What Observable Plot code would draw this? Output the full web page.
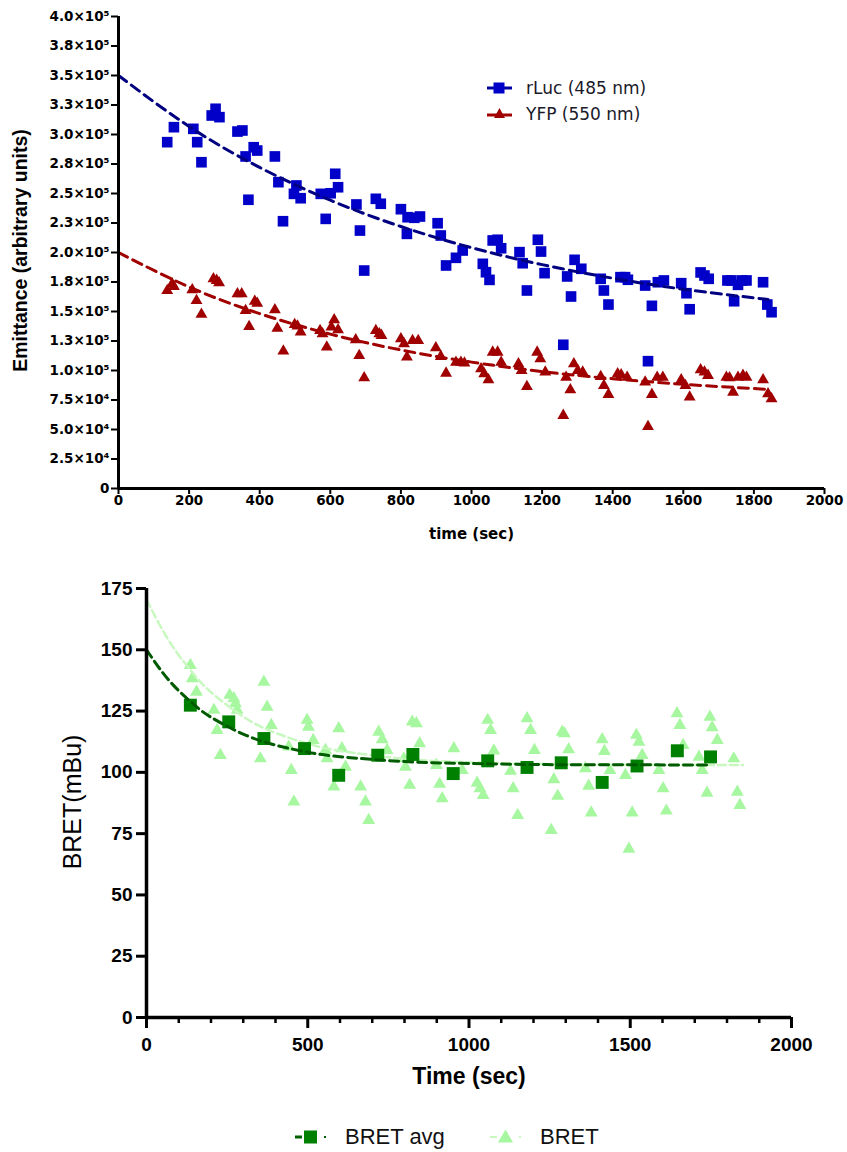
<!DOCTYPE html>
<html>
<head>
<meta charset="utf-8">
<script src="https://cdn.jsdelivr.net/npm/d3@7"></script>
<script src="https://cdn.jsdelivr.net/npm/@observablehq/plot@0.6"></script>
<style>
  html, body { margin: 0; padding: 0; background: white; }
  #wrap { position: relative; width: 847px; height: 1152px; background: white; overflow: hidden; }
  #wrap svg { display: block; }
  .leg { position: absolute; display: flex; align-items: center; white-space: nowrap; }
  .leg svg { display: block; }
</style>
</head>
<body>
<div id="wrap">
  <div id="top"></div>
  <div id="bottom"></div>
  <div class="leg" style="left:486px; top:78px; font-family:'DejaVu Sans'; font-size:17px; color:#1a1a2a;">
    <svg width="28" height="20"><line x1="1" y1="10" x2="26" y2="10" stroke="#0000a0" stroke-width="3"/><rect x="7.5" y="4.5" width="11" height="11" fill="#0000c8"/></svg>
    <span style="margin-left:12px">rLuc (485 nm)</span>
  </div>
  <div class="leg" style="left:486px; top:104px; font-family:'DejaVu Sans'; font-size:17px; color:#1a1a2a;">
    <svg width="28" height="20"><line x1="1" y1="11" x2="26" y2="11" stroke="#a00000" stroke-width="3"/><path d="M13.5,4 L19,14 L8,14 Z" fill="#a00000"/></svg>
    <span style="margin-left:12px">YFP (550 nm)</span>
  </div>
  <div class="leg" style="left:294px; top:1122px; font-family:'Liberation Sans', Arial; font-size:22px; color:#111;">
    <svg width="34" height="30"><line x1="1" y1="15" x2="8" y2="15" stroke="#006000" stroke-width="3"/><rect x="10" y="8.5" width="13" height="13" fill="#008000"/><line x1="30" y1="15" x2="32" y2="15" stroke="#006000" stroke-width="2"/></svg>
    <span style="margin-left:17px">BRET avg</span>
  </div>
  <div class="leg" style="left:489px; top:1122px; font-family:'Liberation Sans', Arial; font-size:22px; color:#111;">
    <svg width="34" height="30"><line x1="1" y1="15" x2="8" y2="15" stroke="#c8f8c0" stroke-width="2"/><path d="M16.5,7.5 L24,20.5 L9,20.5 Z" fill="#a6f7a0"/><line x1="30" y1="15" x2="32" y2="15" stroke="#c8f8c0" stroke-width="2"/></svg>
    <span style="margin-left:17px">BRET</span>
  </div>
</div>
<script>
// ---------- Top chart data ----------
const rlucTime = [138,157,212,223,235,264,275,286,337,351,360,383,393,368,443,453,466,504,497,516,573,587,601,614,622,674,684,696,729,743,800,819,817,838,854,904,913,928,956,975,1032,1041,1051,1060,1074,1084,1136,1145,1157,1188,1197,1207,1260,1271,1282,1292,1311,1366,1375,1388,1422,1435,1443,1492,1500,1511,1528,1545,1594,1609,1618,1649,1660,1672,1725,1736,1744,1755,1766,1779,1826,1838,1850];
const rlucValue = [293500,306200,304800,293500,276500,316100,321800,314700,302500,303400,281400,289200,286400,244700,281400,259600,226500,256800,249700,246000,249700,228500,250200,266700,255300,240700,218600,184700,245500,241300,236700,229900,215800,229400,230500,224800,214400,189000,195500,201700,190400,183300,176800,210200,210800,203600,200300,190900,167800,210800,200800,182500,121800,179700,162700,193800,186200,177700,167800,155900,179100,179100,176900,172000,107900,154800,174800,176300,174000,165500,151900,183100,180500,177700,176300,176300,158700,172600,176300,176300,174800,155900,149400];

const yfpTime = [138,152,157,209,221,235,269,278,285,337,349,360,370,386,393,443,450,467,499,507,516,571,578,590,603,611,622,672,682,696,729,739,745,800,809,817,833,849,899,913,928,956,970,980,1027,1036,1048,1060,1074,1084,1133,1142,1157,1186,1195,1209,1260,1268,1280,1290,1301,1315,1366,1375,1388,1414,1424,1441,1492,1500,1511,1526,1542,1594,1606,1618,1649,1660,1670,1722,1731,1741,1755,1769,1779,1826,1840,1850];
const yfpValue = [167800,173400,171200,168400,159300,147500,177700,176300,174300,165000,165000,150800,137300,158700,157000,151400,135800,116400,139000,137600,132500,133900,131100,119800,136700,143000,134500,126000,112700,93800,133900,131100,129700,126900,122600,111300,125400,125400,119200,111900,97700,107000,107000,106200,101400,97200,92100,115500,115500,107000,105600,100000,86400,115500,109900,98600,61900,94300,83600,105600,100000,98600,94900,87300,79700,97200,96300,94300,90100,52500,79700,94300,94300,92100,87300,77400,100600,98600,95800,94300,93800,81600,94300,95800,94300,92100,80300,76000];

// fitted (dashed) curves
const rlucFitTime  = [0,200,400,600,800,1000,1200,1400,1600,1840];
const rlucFitValue = [350000,306800,272100,244300,222000,204100,189700,178200,168900,160200];
const yfpFitTime   = [0,200,400,600,800,1000,1200,1400,1600,1840];
const yfpFitValue  = [200000,170800,148200,130800,117400,107100,99100,93000,88300,84000];

const topYTicks = [0,25000,50000,75000,100000,125000,150000,175000,200000,225000,250000,275000,300000,325000,350000,375000,400000];
const topYTickLabels = ["0","2.5×10⁴","5.0×10⁴","7.5×10⁴","1.0×10⁵","1.3×10⁵","1.5×10⁵","1.8×10⁵","2.0×10⁵","2.3×10⁵","2.5×10⁵","2.8×10⁵","3.0×10⁵","3.3×10⁵","3.5×10⁵","3.8×10⁵","4.0×10⁵"];
const topXTicks = [0,200,400,600,800,1000,1200,1400,1600,1800,2000];

// ---------- Bottom chart data ----------
const bretAvgTime  = [136,255,364,490,596,717,826,951,1058,1180,1286,1413,1521,1646,1749];
const bretAvgValue = [127.4,120.6,113.8,109.7,98.8,107.0,107.3,99.5,104.7,102.0,103.9,95.9,102.6,108.8,106.3];

const bretTime  = [136,142,155,209,219,229,258,271,276,281,364,374,387,353,441,449,457,498,502,517,555,560,596,606,617,581,664,679,689,720,731,746,798,803,816,824,837,847,899,909,917,953,979,1025,1034,1044,1058,1067,1077,1129,1137,1151,1180,1191,1203,1263,1275,1255,1289,1296,1309,1361,1371,1379,1413,1420,1437,1485,1496,1506,1519,1527,1537,1589,1602,1612,1645,1654,1664,1713,1723,1738,1747,1754,1770,1821,1832,1840];
const bretValue = [143.7,138.3,132.8,125.4,117.2,107.0,131.5,130.1,128.1,125.4,136.9,126.7,119.2,105.6,110.4,100.9,88.0,121.3,118.5,113.1,109.0,105.6,117.9,109.7,102.2,94.1,94.1,88.0,80.5,116.5,113.4,109.0,105.6,102.2,94.8,120.6,119.9,111.8,102.9,95.2,89.3,109.7,100.9,95.7,93.4,90.7,121.3,117.2,108.8,100.5,93.4,82.5,122.0,117.2,109.0,97.1,90.3,76.4,116.5,115.8,109.3,101.6,94.4,83.5,113.4,108.6,100.9,98.8,68.7,83.5,115.2,112.4,107.0,100.9,93.4,84.3,124.0,119.2,111.1,106.3,100.9,91.6,122.6,118.3,113.1,105.6,92.0,86.6];

const bretAvgFitTime  = [0,50,100,150,200,300,400,500,600,800,1000,1200,1400,1750];
const bretAvgFitValue = [150,140.7,133.3,127.3,122.5,115.6,111.1,108.2,106.4,104.4,103.6,103.2,103.1,103.0];
const bretFitTime  = [0,50,100,150,200,300,400,500,600,800,1000,1200,1500,1850];
const bretFitValue = [170.5,158.0,147.8,139.5,132.7,122.7,116.1,111.7,108.8,105.5,104.1,103.5,103.1,103.0];

const botYTicks = [0,25,50,75,100,125,150,175];
const botXTicks = [0,500,1000,1500,2000];
const botXMinorTicks = [100,200,300,400,600,700,800,900,1100,1200,1300,1400,1600,1700,1800,1900];

// ---------- build tables ----------
const zip = (xs, ys) => xs.map((x, i) => ({x, y: ys[i]}));
const rluc = zip(rlucTime, rlucValue);
const yfp = zip(yfpTime, yfpValue);
const rlucFit = zip(rlucFitTime, rlucFitValue);
const yfpFit = zip(yfpFitTime, yfpFitValue);
const bretAvg = zip(bretAvgTime, bretAvgValue);
const bret = zip(bretTime, bretValue);
const bretAvgFit = zip(bretAvgFitTime, bretAvgFitValue);
const bretFit = zip(bretFitTime, bretFitValue);
const topLabelMap = new Map(topYTicks.map((t, i) => [t, topYTickLabels[i]]));

const topChart = Plot.plot({
  width: 847, height: 550,
  marginTop: 16, marginBottom: 62, marginLeft: 118, marginRight: 23,
  style: {fontFamily: "DejaVu Sans", background: "white", color: "black", overflow: "visible"},
  x: {domain: [0, 2000]},
  y: {domain: [0, 400000]},
  marks: [
    Plot.axisY({ticks: topYTicks, tickFormat: d => topLabelMap.get(d), tickSize: 7, tickPadding: 2, fontSize: 13.5, fontWeight: "bold", strokeWidth: 2, label: null}),
    Plot.axisX({ticks: topXTicks, tickFormat: d => String(d), tickSize: 6, tickPadding: 1, fontSize: 13.5, fontWeight: "bold", strokeWidth: 2, label: null}),
    Plot.dot(rluc, {x: "x", y: "y", symbol: "square", r: 6, fill: "#0000c8"}),
    Plot.dot(yfp, {x: "x", y: "y", symbol: "triangle", r: 4.4, fill: "#a00000"}),
    Plot.line(rlucFit, {x: "x", y: "y", curve: "natural", stroke: "#000080", strokeWidth: 3, strokeDasharray: "10,6"}),
    Plot.line(yfpFit, {x: "x", y: "y", curve: "natural", stroke: "#a00000", strokeWidth: 3, strokeDasharray: "10,6"}),
    Plot.ruleX([0], {y1: 0, y2: 400000, stroke: "black", strokeWidth: 3}),
    Plot.ruleY([0], {x1: 0, x2: 2000, stroke: "black", strokeWidth: 3}),
    Plot.text(["time (sec)"], {text: d => d, frameAnchor: "bottom", lineAnchor: "middle", dy: 46, fontSize: 15, fontWeight: "bold", fill: "black"}),
    Plot.text(["Emittance (arbitrary units)"], {text: d => d, frameAnchor: "left", textAnchor: "middle", lineAnchor: "middle", rotate: -90, dx: -98, dy: -2, fontFamily: "'Liberation Sans', Arial", fontSize: 19.5, fontWeight: "bold", fill: "black"})
  ]
});
document.getElementById("top").appendChild(topChart);

const botChart = Plot.plot({
  width: 847, height: 550,
  marginTop: 38, marginBottom: 83, marginLeft: 146, marginRight: 56,
  style: {fontFamily: "'Liberation Sans', Arial", background: "white", color: "black", overflow: "visible"},
  x: {domain: [0, 2000]},
  y: {domain: [0, 175]},
  marks: [
    Plot.axisY({ticks: botYTicks, tickFormat: d => String(d), tickSize: 10, tickPadding: 4, fontSize: 19, fontWeight: "bold", strokeWidth: 3, label: null}),
    Plot.axisX({ticks: botXMinorTicks, tickFormat: () => "", tickSize: 6, strokeWidth: 2.5, label: null}),
    Plot.axisX({ticks: botXTicks, tickFormat: d => String(d), tickSize: 11, tickPadding: 9, fontSize: 19, fontWeight: "bold", strokeWidth: 3, label: null}),
    Plot.dot(bret, {x: "x", y: "y", symbol: "triangle", r: 4.8, fill: "#a6f7a0"}),
    Plot.line(bretFit, {x: "x", y: "y", curve: "natural", stroke: "#c8f8c0", strokeWidth: 2.5, strokeDasharray: "8,4"}),
    Plot.dot(bretAvg, {x: "x", y: "y", symbol: "square", r: 7.3, fill: "#008000"}),
    Plot.line(bretAvgFit, {x: "x", y: "y", curve: "natural", stroke: "#005a00", strokeWidth: 3, strokeDasharray: "9,5"}),
    Plot.ruleX([0], {y1: 0, y2: 175, stroke: "black", strokeWidth: 3.5}),
    Plot.ruleY([0], {x1: 0, x2: 2000, stroke: "black", strokeWidth: 3.5}),
    Plot.text(["Time (sec)"], {text: d => d, frameAnchor: "bottom", lineAnchor: "middle", dy: 59, fontSize: 23, fontWeight: "bold", fill: "black"}),
    Plot.text(["BRET(mBu)"], {text: d => d, frameAnchor: "left", textAnchor: "middle", lineAnchor: "middle", rotate: -90, dx: -74, dy: -1, fontSize: 25, fill: "black"})
  ]
});
document.getElementById("bottom").appendChild(botChart);
</script>
</body>
</html>
